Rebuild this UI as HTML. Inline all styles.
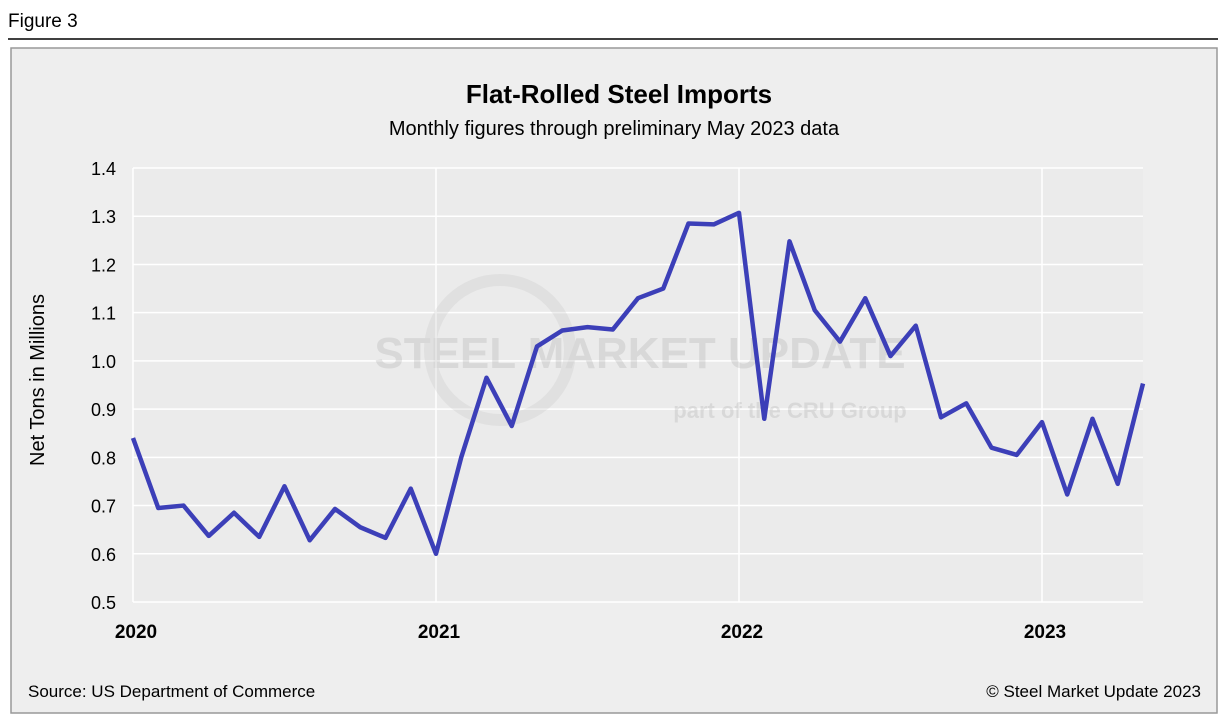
<!DOCTYPE html>
<html><head><meta charset="utf-8"><style>
body{margin:0;width:1227px;height:717px;background:#fff;font-family:"Liberation Sans",Arial,sans-serif;overflow:hidden}
</style></head><body>
<svg width="1227" height="717" xmlns="http://www.w3.org/2000/svg">
<text x="8" y="27" font-size="19" fill="#000">Figure 3</text>
<line x1="8" y1="39" x2="1218" y2="39" stroke="#000" stroke-width="1.5"/>
<rect x="11" y="48" width="1206" height="665" fill="#eeeeee" stroke="#999" stroke-width="1.5"/>
<rect x="133" y="168" width="1010" height="434" fill="#ebebeb"/>
<g id="grid"></g>
<g opacity="0.22">
<circle cx="500" cy="350" r="70" fill="none" stroke="#bbb" stroke-width="12"/>
<text x="640" y="368" font-size="44" font-weight="bold" fill="#999" text-anchor="middle">STEEL MARKET UPDATE</text>
<text x="790" y="418" font-size="22" font-weight="bold" fill="#999" text-anchor="middle">part of the CRU Group</text>
</g>
<text x="619" y="103" font-size="26" font-weight="bold" text-anchor="middle">Flat-Rolled Steel Imports</text>
<text x="614" y="135" font-size="20" text-anchor="middle">Monthly figures through preliminary May 2023 data</text>
<text transform="translate(44,380) rotate(-90)" font-size="20" text-anchor="middle">Net Tons in Millions</text>
<g id="yticks"></g><g id="xticks"></g>
<polyline id="line" fill="none" stroke="#3c3fb8" stroke-width="4.5" stroke-linejoin="round"/>
<text x="28" y="697" font-size="17">Source: US Department of Commerce</text>
<text x="1201" y="697" font-size="17" text-anchor="end">© Steel Market Update 2023</text>
</svg>
<script>
const values=[0.84,0.695,0.70,0.637,0.685,0.635,0.74,0.628,0.693,0.655,0.633,0.735,
0.60,0.80,0.965,0.865,1.03,1.063,1.07,1.065,1.13,1.15,1.285,1.283,
1.307,0.88,1.248,1.105,1.04,1.13,1.01,1.073,0.883,0.912,0.82,0.805,
0.873,0.723,0.88,0.745,0.953];
const yTicks=[0.5,0.6,0.7,0.8,0.9,1.0,1.1,1.2,1.3,1.4];
const yearLabels=["2020","2021","2022","2023"];
const NS="http://www.w3.org/2000/svg";
const x0=133,dx=(1143-133)/40;
const X=i=>x0+i*dx;
const Y=v=>602-(v-0.5)/0.9*434;
const grid=document.getElementById('grid'),yt=document.getElementById('yticks'),xt=document.getElementById('xticks');
yTicks.forEach(t=>{
 const l=document.createElementNS(NS,'line');
 l.setAttribute('x1',133);l.setAttribute('x2',1143);l.setAttribute('y1',Y(t));l.setAttribute('y2',Y(t));
 l.setAttribute('stroke','#fff');l.setAttribute('stroke-width','1.5');
 
 
 grid.appendChild(l);
 const tx=document.createElementNS(NS,'text');
 tx.setAttribute('x',116);tx.setAttribute('y',Y(t)+7);tx.setAttribute('text-anchor','end');tx.setAttribute('font-size','18');
 tx.textContent=t.toFixed(1);
 
 
 yt.appendChild(tx);
});
yearLabels.forEach((y,k)=>{
 const xx=X(k*12);
 const l=document.createElementNS(NS,'line');
 l.setAttribute('x1',xx);l.setAttribute('x2',xx);l.setAttribute('y1',168);l.setAttribute('y2',602);
 l.setAttribute('stroke','#fff');l.setAttribute('stroke-width','1.5');
 
 
 grid.appendChild(l);
 const tx=document.createElementNS(NS,'text');
 tx.setAttribute('x',xx+3);tx.setAttribute('y',638);tx.setAttribute('text-anchor','middle');tx.setAttribute('font-size','19');tx.setAttribute('font-weight','bold');
 tx.textContent=y;
 
 
 xt.appendChild(tx);
});
document.getElementById('line').setAttribute('points',values.map((v,i)=>X(i)+','+Y(v)).join(' '));
</script>
</body></html>
